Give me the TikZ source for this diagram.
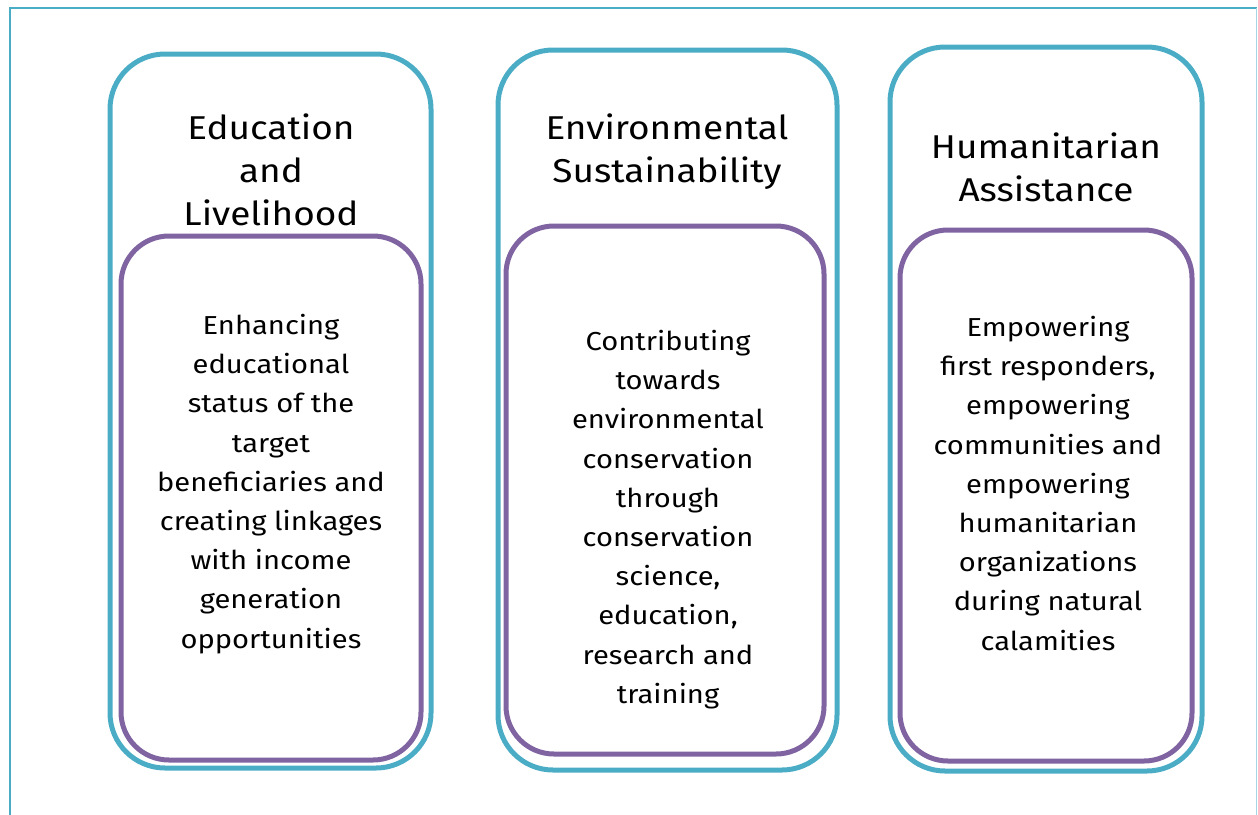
\documentclass[tikz,border=0pt]{standalone}
\usepackage{fontspec}
\setmainfont[FakeStretch=1.12]{Fira Sans}
\definecolor{aqua}{HTML}{4BACC6}
\definecolor{aqualight}{HTML}{A5D5E2}
\definecolor{purp}{HTML}{8064A2}
\tikzset{
  outerbox/.style={draw=aqua, line width=5pt, rounded corners=55pt, inner sep=0pt},
  innerbox/.style={draw=purp, line width=5pt, rounded corners=48pt, inner sep=0pt},
  title/.style={anchor=north, align=center, inner sep=0pt, font=\fontsize{33}{43}\selectfont},
  body/.style={anchor=north, align=center, inner sep=0pt, font=\fontsize{26}{39.2}\selectfont},
}
\begin{document}
\begin{tikzpicture}[x=1pt, y=-1pt]
\useasboundingbox (0,0) rectangle (1258,814);
% frame
\draw[aqua, line width=2pt] (10,815) -- (10,8) -- (1256.5,8);
\draw[aqualight, line width=1.5pt] (1256.5,8) -- (1256.5,815);
% boxes
\node[outerbox, minimum width=321pt, minimum height=714pt] (o1) at (270.5,411) {};
\node[innerbox, minimum width=300pt, minimum height=524pt] (i1) at (271,498) {};
\node[outerbox, minimum width=339pt, minimum height=720pt] (o2) at (667.5,410) {};
\node[innerbox, minimum width=318pt, minimum height=528pt] (i2) at (665,490) {};
\node[outerbox, minimum width=312pt, minimum height=724pt] (o3) at (1046,409) {};
\node[innerbox, minimum width=292pt, minimum height=531pt] (i3) at (1046,495.5) {};
% titles
\node[title] (t1) at (271,114) {Education\\and\\Livelihood};
\node[title] (t2) at (667,114) {Environmental\\Sustainability};
\node[title] (t3) at (1046,133) {Humanitarian\\Assistance};
% bodies
\node[body] (b1) at (271,314) {Enhancing\\educational\\status of the\\target\\beneficiaries and\\creating linkages\\with income\\generation\\opportunities};
\node[body] (b2) at (668,330) {Contributing\\towards\\environmental\\conservation\\through\\conservation\\science,\\education,\\research and\\training};
\node[body] (b3) at (1048,316) {Empowering\\first responders,\\empowering\\communities and\\empowering\\humanitarian\\organizations\\during natural\\calamities};
\end{tikzpicture}
\end{document}
